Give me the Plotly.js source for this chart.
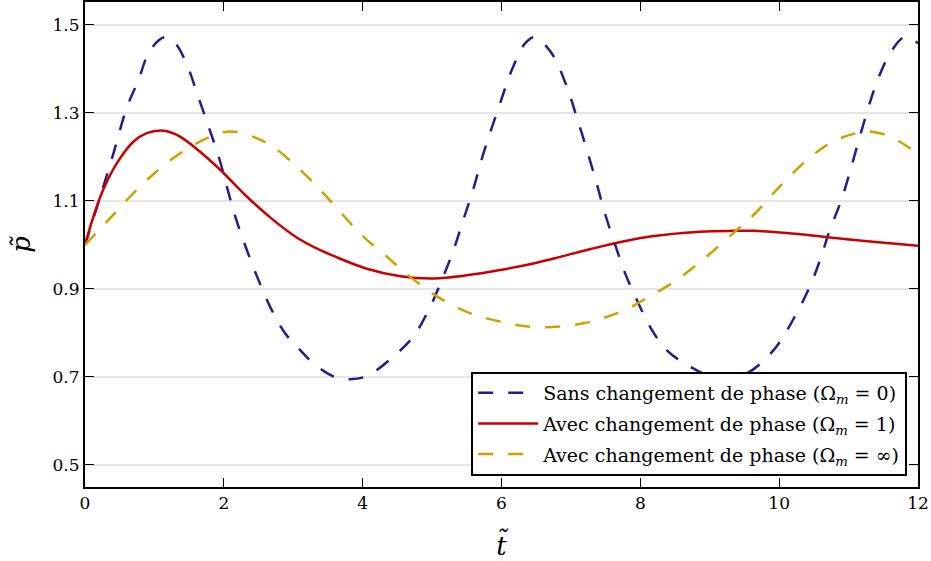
<!DOCTYPE html>
<html>
<head>
<meta charset="utf-8">
<script src="https://cdn.plot.ly/plotly-3.0.1.min.js"></script>
<style>html,body{margin:0;padding:0;background:#fff;}#chart{width:931px;height:561px;}</style>
</head>
<body>
<div id="chart"></div>
<script>
// Sans changement de phase (Omega_m = 0)
const tBlue = [0, 0.20, 0.41, 0.60, 0.77, 0.94, 1.15, 1.30, 1.46, 1.63, 1.78, 1.94, 2.07, 2.18, 2.33, 2.50, 2.69, 2.88, 3.10, 3.29, 3.58, 3.82, 4.06, 4.44, 4.73, 4.95, 5.14, 5.31, 5.45, 5.59, 5.74, 5.98, 6.15, 6.34, 6.48, 6.72, 6.94, 7.08, 7.23, 7.37, 7.49, 7.63, 7.78, 7.95, 8.14, 8.38, 8.72, 9.15, 9.53, 9.92, 10.20, 10.44, 10.59, 10.73, 10.88, 11.00, 11.12, 11.26, 11.40, 11.60, 11.80, 11.93, 12.0];
const pBlue = [1.000, 1.100, 1.208, 1.311, 1.375, 1.443, 1.472, 1.458, 1.413, 1.337, 1.269, 1.193, 1.117, 1.057, 0.989, 0.920, 0.852, 0.800, 0.761, 0.731, 0.701, 0.695, 0.702, 0.746, 0.792, 0.852, 0.920, 0.989, 1.057, 1.125, 1.208, 1.322, 1.398, 1.458, 1.472, 1.436, 1.360, 1.292, 1.216, 1.140, 1.072, 1.004, 0.936, 0.875, 0.814, 0.761, 0.723, 0.695, 0.708, 0.761, 0.830, 0.905, 0.966, 1.034, 1.095, 1.155, 1.223, 1.299, 1.367, 1.436, 1.472, 1.466, 1.458];

// Avec changement de phase (Omega_m = 1)
const tRed = [0, 0.12, 0.26, 0.46, 0.70, 0.89, 1.10, 1.25, 1.37, 1.61, 1.94, 2.33, 2.71, 3.05, 3.39, 3.58, 4.06, 4.54, 5.02, 5.50, 5.98, 6.46, 6.70, 7.42, 8.14, 8.86, 9.34, 9.63, 10.11, 10.73, 11.31, 12.0];
const pRed = [1.000, 1.064, 1.125, 1.186, 1.235, 1.254, 1.260, 1.255, 1.246, 1.218, 1.172, 1.110, 1.057, 1.017, 0.988, 0.975, 0.946, 0.929, 0.924, 0.931, 0.943, 0.958, 0.967, 0.996, 1.019, 1.030, 1.032, 1.032, 1.027, 1.017, 1.008, 0.998];

// Avec changement de phase (Omega_m = infinity)
const tGold = [0, 0.34, 0.65, 1.03, 1.37, 1.75, 2.09, 2.42, 2.71, 3.05, 3.39, 3.67, 4.01, 4.35, 4.68, 5.07, 5.50, 5.98, 6.50, 7.18, 7.71, 8.09, 8.52, 8.95, 9.34, 9.63, 10.01, 10.40, 10.73, 11.02, 11.31, 11.60, 11.88, 12.0];
const pGold = [1.000, 1.057, 1.110, 1.167, 1.208, 1.242, 1.258, 1.246, 1.223, 1.178, 1.125, 1.076, 1.019, 0.973, 0.928, 0.883, 0.848, 0.826, 0.813, 0.822, 0.848, 0.879, 0.920, 0.973, 1.027, 1.068, 1.133, 1.193, 1.231, 1.250, 1.258, 1.246, 1.220, 1.205];

const names = [
  'Sans changement de phase (Ω<sub><i>m</i></sub> = 0)',
  'Avec changement de phase (Ω<sub><i>m</i></sub> = 1)',
  'Avec changement de phase (Ω<sub><i>m</i></sub> = ∞)'
];
const xTicks = [0, 2, 4, 6, 8, 10, 12];
const yTicks = [0.5, 0.7, 0.9, 1.1, 1.3, 1.5];

const FONT = 'DejaVu Serif, serif';

const traces = [
  {x: tBlue, y: pBlue, name: names[0], legendgroup: 'a', mode: 'lines',
   line: {color: '#2a1b8c', width: 2.5, dash: '15px,15px', shape: 'spline', smoothing: 1}},
  {x: tRed, y: pRed, name: names[1], legendgroup: 'b', mode: 'lines',
   line: {color: '#c80000', width: 2.5, shape: 'spline', smoothing: 1}},
  {x: tGold, y: pGold, name: names[2], legendgroup: 'c', mode: 'lines',
   line: {color: '#cca300', width: 2.5, dash: '15px,15px', shape: 'spline', smoothing: 1}}
];

const layout = {
  width: 931, height: 561,
  margin: {l: 85, r: 13, t: 2, b: 74},
  paper_bgcolor: '#fff', plot_bgcolor: '#fff',
  font: {family: FONT, size: 17, color: '#000'},
  showlegend: true,
  legend: {
    x: 0.987, xanchor: 'right', y: 0.023, yanchor: 'bottom',
    bgcolor: '#fff', bordercolor: '#000', borderwidth: 2,
    font: {family: FONT, size: 19, color: '#000'},
    traceorder: 'grouped', tracegroupgap: 3, itemwidth: 60
  },
  xaxis: {
    range: [0, 12], tickvals: xTicks, ticktext: xTicks.map(String),
    showgrid: false, zeroline: false,
    showline: true, linecolor: '#000', linewidth: 2, mirror: 'allticks',
    ticks: 'inside', ticklen: 9, tickwidth: 1, tickcolor: '#000',
    tickfont: {family: FONT, size: 17},
    title: {text: '<i>t̃</i>', font: {family: FONT, size: 26}, standoff: 24}
  },
  yaxis: {
    range: [0.45, 1.552], tickvals: yTicks, ticktext: yTicks.map(v => v.toFixed(1)),
    showgrid: true, gridcolor: '#e6e6e6', gridwidth: 2.5, zeroline: false,
    showline: true, linecolor: '#000', linewidth: 2, mirror: 'allticks',
    ticks: 'inside', ticklen: 9, tickwidth: 1, tickcolor: '#000',
    tickfont: {family: FONT, size: 17},
    title: {text: '<i>p̃</i>', font: {family: FONT, size: 26}, standoff: 14}
  }
};

Plotly.newPlot('chart', traces, layout, {displayModeBar: false, staticPlot: true});
</script>
</body>
</html>
